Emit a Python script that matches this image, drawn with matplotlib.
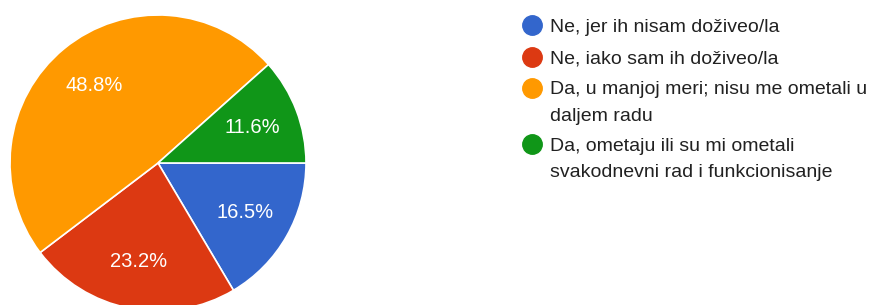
import matplotlib
matplotlib.use("Agg")
import matplotlib.pyplot as plt

plt.rcParams['font.family'] = ['Liberation Sans', 'DejaVu Sans']

# answers and their shares (%)
labels = [
    "Ne, jer ih nisam doživeo/la",
    "Ne, iako sam ih doživeo/la",
    "Da, u manjoj meri; nisu me ometali u\ndaljem radu",
    "Da, ometaju ili su mi ometali\nsvakodnevni rad i funkcionisanje",
]
shares = [16.5, 23.2, 48.8, 11.6]
colors = ["#3366CC", "#DC3912", "#FF9900", "#109618"]

W, H = 872, 305
fig = plt.figure(figsize=(W / 100, H / 100), dpi=100)

# pie axes: centre ~ (158, 163) px, radius ~148 px
r = 148
cx, cy = 158, 163
ax = fig.add_axes([(cx - r) / W, (H - cy - r) / H, 2 * r / W, 2 * r / H])
ax.pie(shares, colors=colors, startangle=0, counterclock=False,
       autopct="%.1f%%", pctdistance=0.68,
       wedgeprops=dict(edgecolor="white", linewidth=1.2),
       textprops=dict(color="white", fontsize=14.5))
ax.set_xlim(-1, 1)
ax.set_ylim(-1, 1)
ax.set_aspect("equal")
ax.axis("off")

# legend drawn by hand (pixel rows from the top)
rows_y = [25, 57, 88, 144]
line_gap = 26.5
for lab, col, y in zip(labels, colors, rows_y):
    fig.add_artist(plt.Line2D([532 / W], [1 - y / H], marker="o", markersize=14,
                              color=col, linestyle="none"))
    for i, line in enumerate(lab.split("\n")):
        base = y + 6.5 + i * line_gap
        fig.text(550 / W, 1 - base / H, line, fontsize=14, color="#212121",
                 va="baseline", ha="left")

fig.savefig("out.png", dpi=100)
